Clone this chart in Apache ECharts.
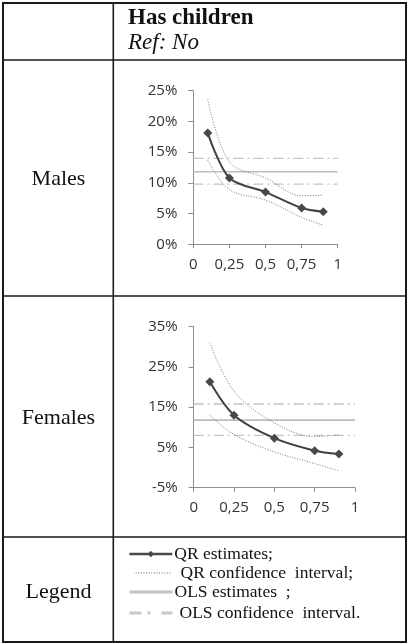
<!DOCTYPE html>
<html>
<head>
<meta charset="utf-8">
<script src="https://cdn.jsdelivr.net/npm/echarts@6/dist/echarts.min.js"></script>
<style>
html,body{margin:0;padding:0;background:#fff;}
#chart{width:408px;height:644px;}
</style>
</head>
<body>
<div id="chart"></div>
<script>
// ---- Data ----
const quantiles = [0.1, 0.25, 0.5, 0.75, 0.9];
const xTickLabels = ['0', '0,25', '0,5', '0,75', '1'];

const malesQR = [18.1, 10.8, 8.5, 5.9, 5.3];
const malesQRUpper = [23.6, 13.4, 10.8, 7.9, 8.0];
const malesQRLower = [13.7, 8.9, 7.2, 4.4, 3.1];
const malesOLS = [11.8, 11.8];
const malesOLSUpper = [14.0, 14.0];
const malesOLSLower = [9.8, 9.8];

const femalesQR = [21.3, 13.0, 7.3, 4.2, 3.4];
const femalesQRUpper = [31.0, 19.0, 11.1, 7.7, 8.1];
const femalesQRLower = [13.0, 8.2, 3.9, 1.0, -0.8];
const femalesOLS = [11.8, 11.8];
const femalesOLSUpper = [15.8, 15.8];
const femalesOLSLower = [8.0, 8.0];

const olsX = [0, 1];

const rowLabels = ['Males', 'Females', 'Legend'];
const headerTitle = 'Has children';
const headerRef = 'Ref: No';
const legendNames = ['QR estimates;', 'QR confidence  interval;', 'OLS estimates  ;', 'OLS confidence  interval.'];

// ---- Helpers ----
const pair = (xs, ys) => xs.map((x, i) => [x, ys[i]]);
const serifFont = '"Liberation Serif", "DejaVu Serif", serif';
const sansFont = '"Open Sans", "Noto Sans", sans-serif';

const qrStyle = { color: '#404040', width: 2 };
const ciStyle = { color: '#777', width: 1, type: [1, 1.6] };
const olsStyle = { color: '#bdbdbd', width: 1.6 };
const olsCiStyle = { color: '#c4c4c4', width: 1.3, type: [10, 4, 2, 4] };

function seriesFor(gi, qr, up, lo, ols, olsUp, olsLo) {
  return [
    { name: legendNames[2], type: 'line', xAxisIndex: gi, yAxisIndex: gi, data: pair(olsX, ols),
      symbol: 'none', lineStyle: olsStyle, itemStyle: { color: olsStyle.color }, z: 1, silent: true },
    { name: legendNames[3], type: 'line', xAxisIndex: gi, yAxisIndex: gi, data: pair(olsX, olsUp),
      symbol: 'none', lineStyle: olsCiStyle, itemStyle: { color: olsCiStyle.color }, z: 1, silent: true },
    { name: legendNames[3], type: 'line', xAxisIndex: gi, yAxisIndex: gi, data: pair(olsX, olsLo),
      symbol: 'none', lineStyle: olsCiStyle, itemStyle: { color: olsCiStyle.color }, z: 1, silent: true },
    { name: legendNames[1], type: 'line', xAxisIndex: gi, yAxisIndex: gi, data: pair(quantiles, up),
      symbol: 'none', smooth: 0.35, lineStyle: ciStyle, itemStyle: { color: ciStyle.color }, z: 2, silent: true },
    { name: legendNames[1], type: 'line', xAxisIndex: gi, yAxisIndex: gi, data: pair(quantiles, lo),
      symbol: 'none', smooth: 0.35, lineStyle: ciStyle, itemStyle: { color: ciStyle.color }, z: 2, silent: true },
    { name: legendNames[0], type: 'line', xAxisIndex: gi, yAxisIndex: gi, data: pair(quantiles, qr),
      symbol: 'diamond', symbolSize: 9, showSymbol: true, smooth: 0.3, lineStyle: qrStyle,
      itemStyle: { color: '#484848' }, z: 3, silent: true }
  ];
}

const axisLabelStyle = { fontFamily: sansFont, fontSize: 15, color: '#333' };
function xAxisFor(gi) {
  return {
    gridIndex: gi, type: 'value', min: 0, max: 1, interval: 0.25,
    axisLine: { show: true, onZero: false, lineStyle: { color: '#8c8c8c', width: 1 } },
    axisTick: { show: true, length: 4, lineStyle: { color: '#8c8c8c' } },
    splitLine: { show: false },
    axisLabel: Object.assign({ margin: 13, formatter: v => xTickLabels[Math.round(v / 0.25)] }, axisLabelStyle)
  };
}
function yAxisFor(gi, min, max, interval) {
  return {
    gridIndex: gi, type: 'value', min: min, max: max, interval: interval,
    axisLine: { show: true, lineStyle: { color: '#8c8c8c', width: 1 } },
    axisTick: { show: true, length: 5, lineStyle: { color: '#8c8c8c' } },
    splitLine: { show: false },
    axisLabel: Object.assign({ margin: 16, formatter: '{value}%' }, axisLabelStyle)
  };
}

// Legends (one per item so each can be placed like the table cell)
function legendFor(i, left, top, itemWidth, padLeft, lineStyle, hideSymbol) {
  const l = {
    data: [legendNames[i]], left: left, top: top, orient: 'vertical', padding: 0,
    itemWidth: itemWidth, itemHeight: 8, selectedMode: false,
    lineStyle: lineStyle,
    textStyle: { fontFamily: serifFont, fontSize: 17.5, color: '#111', lineHeight: 20, padding: [0, 0, 0, padLeft] }
  };
  if (hideSymbol) l.itemStyle = { opacity: 0 };
  return l;
}

const lineColor = '#1a1a1a';
const borderW = 1.6;
function hLine(y) { return { type: 'line', shape: { x1: 3, y1: y, x2: 406, y2: y }, style: { stroke: lineColor, lineWidth: borderW } }; }
function vLine(x) { return { type: 'line', shape: { x1: x, y1: 3, x2: x, y2: 642 }, style: { stroke: lineColor, lineWidth: borderW } }; }
function txt(x, y, text, font, align) {
  return { type: 'text', x: x, y: y, style: { text: text, font: font, fill: '#111', align: align || 'center', verticalAlign: 'middle' } };
}

const chart = echarts.init(document.getElementById('chart'), null, { renderer: 'canvas' });
chart.setOption({
  backgroundColor: '#fff',
  animation: false,
  grid: [
    { left: 193.3, right: 70.3, top: 90.7, bottom: 399.7 },
    { left: 193.7, right: 53, top: 326.7, bottom: 156.3 }
  ],
  xAxis: [xAxisFor(0), xAxisFor(1)],
  yAxis: [yAxisFor(0, 0, 25, 5), yAxisFor(1, -5, 35, 10)],
  legend: [
    legendFor(0, 128, 544, 43, -3, { width: 2.6, color: '#4a4a4a' }, false),
    legendFor(1, 135, 563, 35, 5, { width: 1.2, color: '#666', type: [1, 1.6] }, true),
    legendFor(2, 128, 582, 43, -3, { width: 3, color: '#c2c2c2' }, true),
    legendFor(3, 128, 603, 43, 2, { width: 3, color: '#c8c8c8', type: [12, 6, 3, 11] }, true)
  ],
  series: [].concat(
    seriesFor(0, malesQR, malesQRUpper, malesQRLower, malesOLS, malesOLSUpper, malesOLSLower),
    seriesFor(1, femalesQR, femalesQRUpper, femalesQRLower, femalesOLS, femalesOLSUpper, femalesOLSLower)
  ),
  graphic: [
    { type: 'rect', shape: { x: 3, y: 3, width: 403, height: 639 }, style: { fill: 'none', stroke: lineColor, lineWidth: 2 } },
    vLine(113.3),
    hLine(60), hLine(296), hLine(537),
    txt(128, 18, headerTitle, 'bold 23px ' + serifFont, 'left'),
    txt(128, 43, headerRef, 'italic 23px ' + serifFont, 'left'),
    txt(58.5, 179, rowLabels[0], '22px ' + serifFont),
    txt(58.5, 418, rowLabels[1], '22px ' + serifFont),
    txt(58.5, 592, rowLabels[2], '22px ' + serifFont)
  ]
});
</script>
</body>
</html>
